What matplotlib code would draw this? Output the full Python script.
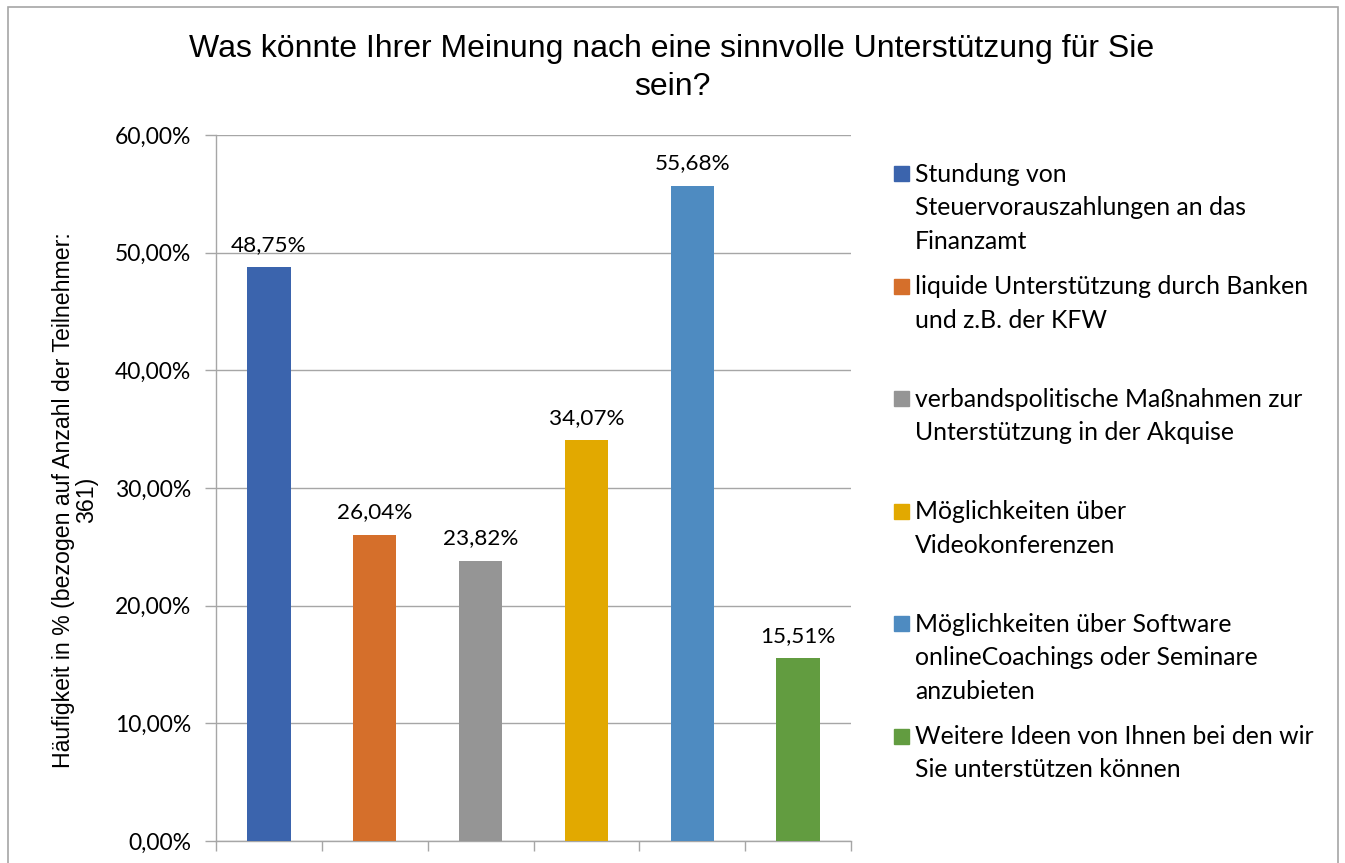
import numpy as np
import matplotlib.pyplot as plt
from matplotlib.patches import Rectangle

# data
labels = ['Stundung von\nSteuervorauszahlungen an das\nFinanzamt',
          'liquide Unterstützung durch Banken\nund z.B. der KFW',
          'verbandspolitische Maßnahmen zur\nUnterstützung in der Akquise',
          'Möglichkeiten über\nVideokonferenzen',
          'Möglichkeiten über Software\nonlineCoachings oder Seminare\nanzubieten',
          'Weitere Ideen von Ihnen bei den wir\nSie unterstützen können']
values = [48.75, 26.04, 23.82, 34.07, 55.68, 15.51]
colors = ['#3B64AD', '#D56F2B', '#959595', '#E2A900', '#4E8BC1', '#629C40']
yticks = [0, 10, 20, 30, 40, 50, 60]

W, H = 1345, 863
fig = plt.figure(figsize=(W / 100, H / 100), dpi=100)

# outer chart border (cut off at the bottom like the reference)
fig.patches.append(Rectangle((8 / W, -0.01), (1338 - 8) / W, (H - 7) / H + 0.01,
                             transform=fig.transFigure, fill=False,
                             edgecolor='#A6A6A6', linewidth=1.2))

ax = fig.add_axes([216 / W, 1 - 841 / H, (851 - 216) / W, (841 - 135) / H])
x = np.arange(len(values))
ax.bar(x, values, width=0.41, color=colors, zorder=3)
ax.set_xlim(-0.5, len(values) - 0.5)
ax.set_ylim(0, 60)

ax.set_yticks(yticks)
ax.set_yticklabels(['%d,00%%' % t for t in yticks], fontsize=16.5, family='Lato')
ax.yaxis.grid(True, color='#A6A6A6', linewidth=1.0, zorder=0)
ax.tick_params(axis='y', length=8, color='#A6A6A6', width=1.0, pad=10)

# category boundary ticks on the x axis
ax.set_xticks(np.arange(-0.5, len(values)))
ax.set_xticklabels([])
ax.tick_params(axis='x', length=7, color='#A6A6A6', width=1.0)

for s in ['top', 'right']:
    ax.spines[s].set_visible(False)
for s in ['left', 'bottom']:
    ax.spines[s].set_color('#A6A6A6')
    ax.spines[s].set_linewidth(1.0)

for xi, v in zip(x, values):
    ax.annotate(('%.2f%%' % v).replace('.', ','), (xi, v), xytext=(0, 9),
                textcoords='offset points', ha='center', va='bottom',
                fontsize=16.2, family='Lato')

ax.set_ylabel('Häufigkeit in % (bezogen auf Anzahl der Teilnehmer:\n361)',
              fontsize=16.7, family='Liberation Sans', labelpad=12,
              linespacing=1.0)
ax.yaxis.label.set_y(0.483)

fig.text(672 / W, 1 - 68 / H,
         'Was könnte Ihrer Meinung nach eine sinnvolle Unterstützung für Sie\nsein?',
         ha='center', va='center', fontsize=23, family='Liberation Sans',
         linespacing=1.38)

# legend drawn by hand, evenly spaced entries like the Excel legend
top = 174
step = 112.4
for i, (lab, c) in enumerate(zip(labels, colors)):
    yc = top + i * step
    fig.patches.append(Rectangle((894 / W, 1 - (yc + 7.5) / H), 15 / W, 15 / H,
                                 transform=fig.transFigure, color=c))
    fig.text(915 / W, 1 - (yc - 11) / H, lab, ha='left', va='top', fontsize=17.8,
             family='Lato', linespacing=1.55)

fig.savefig('out.png', dpi=100)
